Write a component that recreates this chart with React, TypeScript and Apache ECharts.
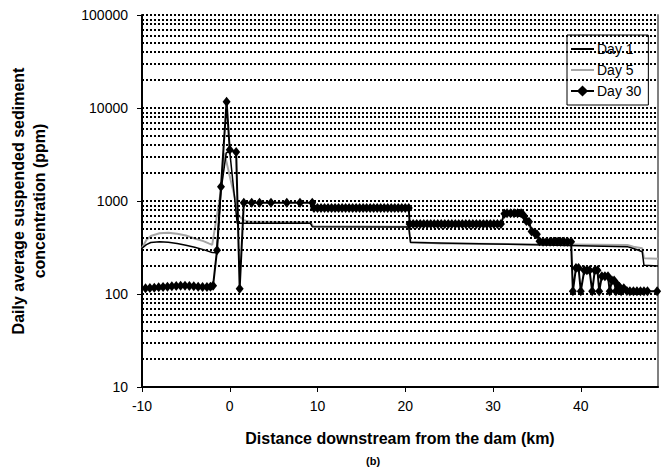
import React, { useEffect, useRef } from "react";
import * as echarts from "echarts";

const seriesNames = ["Day 1", "Day 5", "Day 30"];

const day1: [number, number][] = [
  [-10, 310], [-9.5, 340], [-9.0, 358], [-8.0, 365], [-7.0, 360], [-6.0, 350], [-5.0, 335],
  [-4.0, 318], [-3.0, 300], [-2.0, 280], [-1.5, 278], [-1.0, 1300], [-0.4, 3300], [0.0, 3400],
  [0.85, 575], [1.5, 575], [9.2, 575], [9.4, 530], [20.4, 525], [20.6, 357], [30.0, 345],
  [45.3, 323], [45.9, 310], [46.5, 297], [47.0, 285], [47.2, 204], [48.8, 200],
];

const day5: [number, number][] = [
  [-10, 312], [-9.5, 380], [-9.0, 420], [-8.0, 450], [-7.0, 455], [-6.0, 445], [-5.0, 425],
  [-4.0, 395], [-3.0, 370], [-2.4, 350], [-2.0, 338], [-1.0, 1300], [-0.6, 3260], [0.1, 1680],
  [0.66, 1020], [1.0, 700], [1.6, 620], [2.3, 600], [9.2, 590], [9.5, 535], [20.4, 530],
  [20.6, 365], [24.0, 350], [45.3, 336], [46.0, 322], [47.0, 310], [47.2, 242], [48.8, 240],
];

const day30: [number, number][] = [
  [-9.6, 115], [-9.1, 116], [-8.6, 117], [-8.1, 118], [-7.6, 119], [-7.1, 120], [-6.6, 121],
  [-6.1, 122], [-5.6, 123], [-5.1, 123], [-4.6, 122], [-4.1, 121], [-3.6, 120], [-3.1, 119],
  [-2.6, 119], [-2.2, 120], [-1.9, 123],
  [-1.45, 296], [-1.0, 1420], [-0.36, 11700], [0.0, 3550], [0.73, 3370], [1.13, 114],
  [1.6, 960], [2.5, 960], [3.4, 955], [4.7, 955], [6.5, 955], [8.0, 955], [9.4, 955],
  [9.6, 840], [10.0, 840], [10.4, 840], [10.8, 840], [11.2, 840], [11.6, 840], [12.0, 840],
  [12.4, 840], [12.8, 840], [13.2, 840], [13.6, 840], [14.0, 840], [14.4, 840], [14.8, 840],
  [15.2, 840], [15.6, 840], [16.0, 840], [16.4, 840], [16.8, 840], [17.2, 840], [17.6, 840],
  [18.0, 840], [18.4, 840], [18.8, 840], [19.2, 840], [19.6, 840], [20.0, 840], [20.4, 840],
  [20.5, 566], [20.9, 566], [21.3, 566], [21.7, 566], [22.1, 566], [22.5, 566], [22.9, 566],
  [23.3, 566], [23.7, 566], [24.1, 566], [24.5, 566], [24.9, 566], [25.3, 566], [25.7, 566],
  [26.1, 566], [26.5, 566], [26.9, 566], [27.3, 566], [27.7, 566], [28.1, 566], [28.5, 566],
  [28.9, 566], [29.3, 566], [29.7, 566], [30.1, 566], [30.5, 566], [30.9, 566],
  [31.3, 730], [31.6, 740], [32.0, 740], [32.4, 740], [32.8, 740], [33.2, 740], [33.5, 700],
  [33.8, 610], [34.1, 600], [34.4, 470], [34.7, 455], [35.0, 440], [35.3, 370], [35.7, 365],
  [36.1, 365], [36.5, 365], [36.9, 365], [37.3, 365], [37.7, 365], [38.1, 365], [38.5, 365],
  [38.9, 365],
  [39.1, 107], [39.45, 190], [39.75, 190], [40.0, 107], [40.4, 180], [40.7, 180], [41.0, 180],
  [41.3, 107], [41.6, 180], [41.9, 180], [42.1, 107], [42.4, 155], [42.75, 155], [43.1, 155],
  [43.3, 107], [43.55, 140], [43.8, 140], [44.0, 107], [44.2, 125], [44.4, 120], [44.6, 107],
  [44.9, 115], [45.25, 108], [45.6, 107], [46.0, 107], [46.4, 107], [46.8, 107], [47.2, 107],
  [47.6, 107], [48.7, 107],
];

const decadeTicks = [10, 100, 1000, 10000, 100000];
const minorGridValues = [
  20, 30, 40, 50, 60, 70, 80, 90,
  200, 300, 400, 500, 600, 700, 800, 900,
  2000, 3000, 4000, 5000, 6000, 7000, 8000, 9000,
  20000, 30000, 40000, 50000, 60000, 70000, 80000, 90000,
];

const xTitle = "Distance downstream from the dam (km)";
const yTitle = "Daily average suspended sediment\nconcentration (ppm)";
const caption = "(b)";

const FONT = "'Liberation Sans', Arial, Helvetica, sans-serif";
const dotted = { color: "#000", type: [2, 2] as number[], width: 2 };

export default function App() {
  const ref = useRef<HTMLDivElement>(null);
  useEffect(() => {
    if (!ref.current) return;
    const chart = echarts.init(ref.current, undefined, { renderer: "svg" });
    chart.setOption({
      animation: false,
      backgroundColor: "#fff",
      textStyle: { fontFamily: FONT },
      title: {
        text: caption,
        left: 366,
        top: 455,
        padding: 0,
        textStyle: { fontSize: 11, fontWeight: "bold", color: "#000", fontFamily: FONT },
      },
      grid: { left: 123, right: 11, top: 15, bottom: 88, containLabel: false },
      legend: {
        data: [
          { name: seriesNames[0], itemStyle: { opacity: 0 } },
          { name: seriesNames[1], itemStyle: { opacity: 0 } },
          { name: seriesNames[2] },
        ],
        orient: "vertical",
        left: 567,
        top: 35,
        padding: [7, 7, 7, 3],
        itemWidth: 23,
        itemHeight: 14,
        itemGap: 7,
        lineStyle: { width: 2 },
        backgroundColor: "#fff",
        borderColor: "#000",
        borderWidth: 1,
        borderRadius: 0,
        textStyle: { fontSize: 14, color: "#000", fontFamily: FONT, padding: [0, 0, 0, -2] },
      },
      xAxis: {
        type: "value",
        min: -10,
        max: 48.8,
        interval: 10,
        name: xTitle,
        nameLocation: "middle",
        nameGap: 43,
        nameTextStyle: { fontSize: 16, fontWeight: "bold", color: "#000", fontFamily: FONT },
        axisLine: { show: true, onZero: false, lineStyle: { color: "#000", width: 2 } },
        axisTick: { show: true, inside: false, length: 5, lineStyle: { color: "#000", width: 1 } },
        axisLabel: { fontSize: 14, color: "#000", margin: 12, showMaxLabel: false, fontFamily: FONT },
        splitLine: { show: false },
      },
      yAxis: [
        {
          type: "log",
          logBase: 10,
          min: decadeTicks[0],
          max: decadeTicks[decadeTicks.length - 1],
          position: "left",
          name: yTitle,
          nameLocation: "middle",
          nameGap: 92,
          nameTextStyle: { fontSize: 16, fontWeight: "bold", color: "#000", lineHeight: 21, fontFamily: FONT },
          axisLine: { show: true, onZero: false, lineStyle: { color: "#000", width: 2 } },
          axisTick: { show: true, inside: false, length: 5, lineStyle: { color: "#000", width: 1 } },
          axisLabel: {
            fontSize: 14,
            color: "#000",
            margin: 14,
            fontFamily: FONT,
            formatter: (v: number) => String(Math.round(v)),
          },
          splitLine: { show: true, lineStyle: dotted },
        },
        {
          type: "log",
          logBase: 10,
          min: decadeTicks[0],
          max: decadeTicks[decadeTicks.length - 1],
          position: "right",
          axisLine: { show: true, onZero: false, lineStyle: { color: "#808080", width: 2 } },
          axisTick: { show: false },
          axisLabel: { show: false },
          splitLine: { show: false },
        },
      ],
      series: [
        {
          name: "grid",
          type: "line",
          data: [],
          z: 1,
          silent: true,
          markLine: {
            silent: true,
            symbol: ["none", "none"],
            label: { show: false },
            lineStyle: dotted,
            data: minorGridValues.map((v) => ({ yAxis: v })),
          },
        },
        {
          name: seriesNames[0],
          type: "line",
          data: day1,
          z: 3,
          showSymbol: false,
          symbol: "none",
          lineStyle: { color: "#000", width: 1.5 },
          itemStyle: { color: "#000" },
        },
        {
          name: seriesNames[1],
          type: "line",
          data: day5,
          z: 2,
          showSymbol: false,
          symbol: "none",
          lineStyle: { color: "#a6a6a6", width: 2 },
          itemStyle: { color: "#a6a6a6" },
        },
        {
          name: seriesNames[2],
          type: "line",
          data: day30,
          z: 4,
          symbol: "diamond",
          symbolSize: [8, 10],
          lineStyle: { color: "#000", width: 2 },
          itemStyle: { color: "#000" },
        },
      ],
    });
    return () => chart.dispose();
  }, []);
  return (
    <div
      ref={ref}
      style={{ position: "absolute", left: 0, top: 0, width: 669, height: 475 }}
    />
  );
}
